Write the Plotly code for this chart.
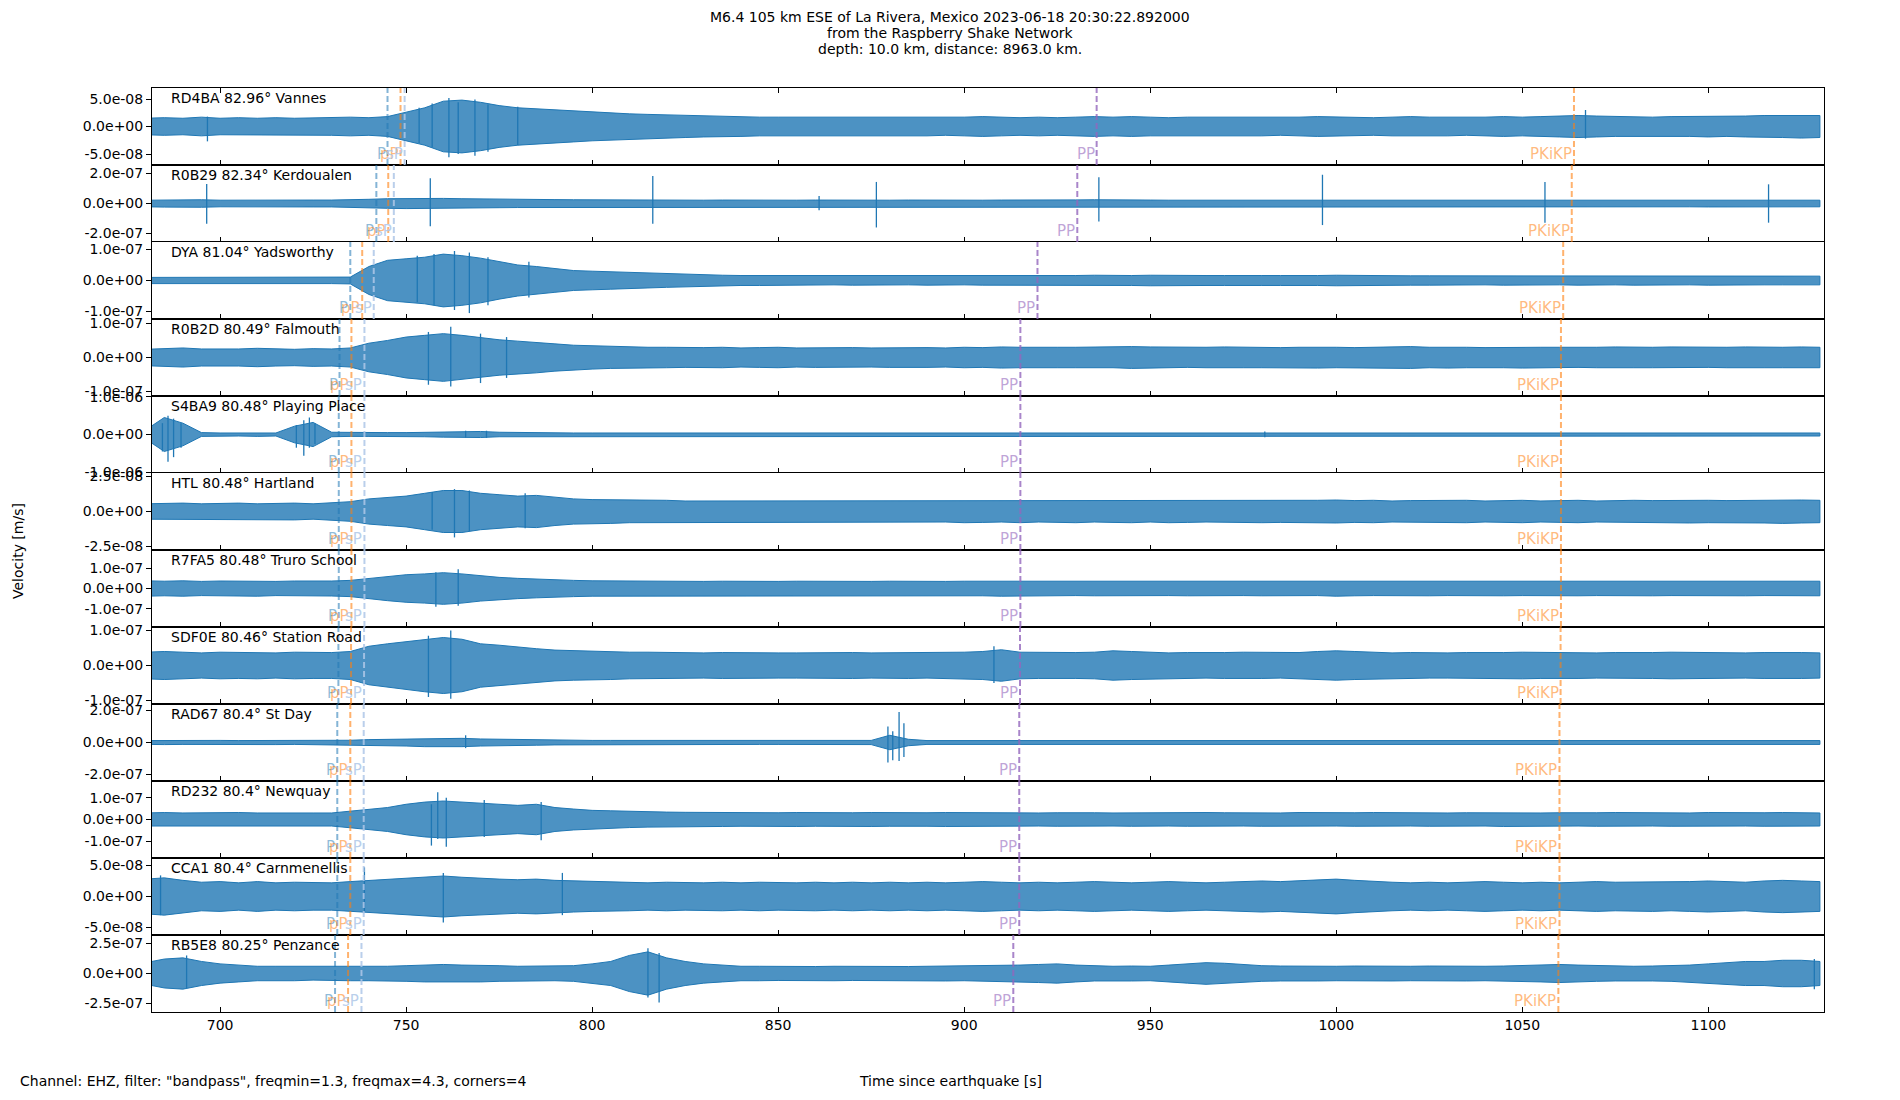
#!/usr/bin/env python3
"""Record section of the M6.4 La Rivera event on the Raspberry Shake network, redrawn with Plotly."""

import plotly.graph_objects as go
from plotly.subplots import make_subplots

# the page puts the figure 8 px in from the top-left corner of the window
PAGE_OFFSET = 8
FIG_W, FIG_H = 1900 - PAGE_OFFSET, 1100 - PAGE_OFFSET
# plot area, in window pixels
PLOT_LEFT, PLOT_RIGHT, PLOT_TOP, PLOT_BOTTOM = 152, 1824, 88, 1012

TITLE_LINES = [
    "M6.4 105 km ESE of La Rivera, Mexico 2023-06-18 20:30:22.892000",
    "from the Raspberry Shake Network",
    "depth: 10.0 km, distance: 8963.0 km.",
]
FOOTER = 'Channel: EHZ, filter: "bandpass", freqmin=1.3, freqmax=4.3, corners=4'
X_TITLE = "Time since earthquake [s]"
Y_TITLE = "Velocity [m/s]"

X_RANGE = [681.7, 1131.1]
X_TICKS = [700, 750, 800, 850, 900, 950, 1000, 1050, 1100]

STATIONS = ["RD4BA", "R0B29", "DYA", "R0B2D", "S4BA9", "HTL",
            "R7FA5", "SDF0E", "RAD67", "RD232", "CCA1", "RB5E8"]
DISTANCES = ["82.96", "82.34", "81.04", "80.49", "80.48", "80.48",
             "80.48", "80.46", "80.4", "80.4", "80.4", "80.25"]
PLACES = ["Vannes", "Kerdoualen", "Yadsworthy", "Falmouth", "Playing Place", "Hartland",
          "Truro School", "Station Road", "St Day", "Newquay", "Carnmenellis", "Penzance"]

# amplitude unit of each trace (m/s), half height of its y axis and the tick step, in that unit
UNITS = [1e-8, 1e-7, 1e-7, 1e-7, 1e-6, 1e-8, 1e-7, 1e-7, 1e-7, 1e-7, 1e-8, 1e-7]
Y_HALF = [7.0, 2.57, 1.24, 1.13, 1.02, 2.75, 1.9, 1.1, 2.4, 1.77, 6.2, 3.2]
Y_STEP = [5, 2, 1, 1, 1, 2.5, 1, 1, 2, 1, 5, 2.5]
Y_TICK_TEXT = [
    ["5.0e-08", "0.0e+00", "-5.0e-08"],
    ["2.0e-07", "0.0e+00", "-2.0e-07"],
    ["1.0e-07", "0.0e+00", "-1.0e-07"],
    ["1.0e-07", "0.0e+00", "-1.0e-07"],
    ["1.0e-06", "0.0e+00", "-1.0e-06"],
    ["2.5e-08", "0.0e+00", "-2.5e-08"],
    ["1.0e-07", "0.0e+00", "-1.0e-07"],
    ["1.0e-07", "0.0e+00", "-1.0e-07"],
    ["2.0e-07", "0.0e+00", "-2.0e-07"],
    ["1.0e-07", "0.0e+00", "-1.0e-07"],
    ["5.0e-08", "0.0e+00", "-5.0e-08"],
    ["2.5e-07", "0.0e+00", "-2.5e-07"],
]

# theoretical arrival times (s) per station
P_TIME = [745.0, 742.0, 735.0, 732.1, 731.9, 731.9, 731.9, 731.8, 731.5, 731.5, 731.5, 730.9]
PP_DEPTH_TIME = [748.5, 745.2, 738.2, 735.3, 735.3, 735.3, 735.3, 735.2, 735.0, 735.0, 735.0, 734.4]
SP_TIME = [749.6, 746.7, 741.3, 738.8, 738.8, 738.8, 738.8, 738.7, 738.6, 738.6, 738.6, 738.0]
PP_TIME = [935.6, 930.4, 919.7, 915.1, 915.1, 915.1, 915.1, 915.0, 914.8, 914.8, 914.8, 913.2]
PKIKP_TIME = [1063.9, 1063.3, 1061.0, 1060.4, 1060.4, 1060.4, 1060.4, 1060.3, 1060.0, 1060.0, 1060.0, 1059.7]

# envelope of each trace, read every 5 s, in the trace unit
ENV_T = list(range(680, 1135, 5))

ENV_RD4BA = [
    1.5, 1.6, 1.5, 1.7, 1.5, 1.6, 1.5, 1.6, 1.5, 1.6,
    1.6, 1.7, 1.6, 1.8, 2.6, 3.4, 4.6, 4.8, 4.4, 3.8,
    3.4, 3.2, 3.0, 2.8, 2.6, 2.4, 2.3, 2.2, 2.1, 2.0,
    1.9, 1.8, 1.8, 1.7, 1.7, 1.7, 1.6, 1.7, 1.6, 1.7,
    1.6, 1.7, 1.7, 1.6, 1.7, 1.8, 1.7, 1.6, 1.7, 1.6,
    1.7, 1.8, 1.7, 1.8, 1.7, 1.6, 1.7, 1.7, 1.6, 1.7,
    1.7, 1.6, 1.7, 1.8, 1.7, 1.7, 1.6, 1.7, 1.8, 1.7,
    1.7, 1.6, 1.7, 1.8, 1.7, 1.8, 1.9, 2.0, 1.9, 1.8,
    1.8, 1.7, 1.8, 1.8, 1.9, 1.8, 1.9, 2.0, 2.0, 2.1,
    2.0,
]
ENV_R0B29 = [
    0.22, 0.24, 0.22, 0.25, 0.22, 0.23, 0.22, 0.24, 0.22, 0.23,
    0.23, 0.24, 0.28, 0.32, 0.34, 0.36, 0.34, 0.32, 0.30, 0.28,
    0.27, 0.26, 0.26, 0.25, 0.24, 0.24, 0.23, 0.25, 0.23, 0.23,
    0.22, 0.23, 0.22, 0.23, 0.22, 0.22, 0.23, 0.22, 0.23, 0.22,
    0.22, 0.23, 0.22, 0.22, 0.23, 0.22, 0.23, 0.22, 0.22, 0.23,
    0.24, 0.25, 0.23, 0.22, 0.23, 0.22, 0.22, 0.23, 0.22, 0.23,
    0.22, 0.23, 0.22, 0.24, 0.23, 0.22, 0.23, 0.22, 0.22, 0.23,
    0.22, 0.23, 0.22, 0.23, 0.22, 0.23, 0.24, 0.23, 0.22, 0.23,
    0.22, 0.23, 0.22, 0.22, 0.23, 0.22, 0.23, 0.22, 0.22, 0.23,
    0.22,
]
ENV_DYA = [
    0.10, 0.10, 0.11, 0.10, 0.10, 0.10, 0.11, 0.10, 0.10, 0.10,
    0.10, 0.11, 0.45, 0.65, 0.70, 0.75, 0.85, 0.80, 0.72, 0.60,
    0.50, 0.45, 0.38, 0.32, 0.30, 0.28, 0.25, 0.24, 0.22, 0.20,
    0.18, 0.17, 0.16, 0.16, 0.15, 0.15, 0.15, 0.14, 0.15, 0.15,
    0.15, 0.14, 0.15, 0.15, 0.14, 0.15, 0.15, 0.15, 0.16, 0.15,
    0.16, 0.17, 0.16, 0.16, 0.17, 0.16, 0.17, 0.16, 0.16, 0.17,
    0.16, 0.16, 0.15, 0.16, 0.17, 0.16, 0.15, 0.16, 0.15, 0.15,
    0.15, 0.15, 0.14, 0.15, 0.15, 0.15, 0.14, 0.15, 0.15, 0.14,
    0.15, 0.14, 0.15, 0.14, 0.15, 0.14, 0.15, 0.14, 0.14, 0.15,
    0.14,
]
ENV_R0B2D = [
    0.24, 0.25, 0.28, 0.25, 0.24, 0.25, 0.27, 0.25, 0.24, 0.26,
    0.25, 0.28, 0.42, 0.50, 0.60, 0.65, 0.70, 0.65, 0.58, 0.52,
    0.48, 0.45, 0.40, 0.36, 0.34, 0.32, 0.31, 0.30, 0.30, 0.29,
    0.29, 0.30, 0.28, 0.29, 0.30, 0.28, 0.29, 0.30, 0.29, 0.28,
    0.29, 0.30, 0.29, 0.28, 0.30, 0.29, 0.31, 0.30, 0.29, 0.30,
    0.30, 0.31, 0.30, 0.32, 0.31, 0.30, 0.29, 0.30, 0.31, 0.30,
    0.30, 0.29, 0.30, 0.31, 0.30, 0.29, 0.30, 0.31, 0.32, 0.30,
    0.31, 0.30, 0.29, 0.30, 0.31, 0.30, 0.30, 0.29, 0.30, 0.31,
    0.30, 0.30, 0.31, 0.30, 0.29, 0.30, 0.31, 0.30, 0.30, 0.31,
    0.30,
]
ENV_S4BA9 = [
    0.12, 0.45, 0.30, 0.05, 0.04, 0.04, 0.05, 0.04, 0.22, 0.32,
    0.06, 0.05, 0.05, 0.05, 0.05, 0.06, 0.07, 0.08, 0.08, 0.06,
    0.05, 0.06, 0.05, 0.04, 0.04, 0.04, 0.04, 0.04, 0.04, 0.04,
    0.04, 0.04, 0.04, 0.04, 0.04, 0.04, 0.04, 0.04, 0.04, 0.04,
    0.04, 0.04, 0.04, 0.04, 0.04, 0.04, 0.05, 0.04, 0.04, 0.04,
    0.04, 0.04, 0.04, 0.04, 0.04, 0.04, 0.04, 0.04, 0.04, 0.04,
    0.06, 0.04, 0.04, 0.04, 0.04, 0.04, 0.04, 0.04, 0.04, 0.04,
    0.04, 0.04, 0.04, 0.04, 0.04, 0.04, 0.04, 0.04, 0.04, 0.04,
    0.04, 0.04, 0.04, 0.04, 0.04, 0.05, 0.04, 0.04, 0.04, 0.04,
    0.04,
]
ENV_HTL = [
    0.55, 0.60, 0.60, 0.55, 0.60, 0.60, 0.55, 0.60, 0.60, 0.55,
    0.60, 0.70, 0.90, 1.00, 1.10, 1.30, 1.50, 1.50, 1.30, 1.20,
    1.10, 1.15, 1.00, 0.90, 0.85, 0.85, 0.80, 0.80, 0.80, 0.75,
    0.75, 0.78, 0.75, 0.80, 0.75, 0.78, 0.75, 0.75, 0.80, 0.75,
    0.75, 0.78, 0.75, 0.75, 0.80, 0.78, 0.75, 0.80, 0.75, 0.78,
    0.80, 0.75, 0.78, 0.80, 0.75, 0.80, 0.78, 0.75, 0.80, 0.78,
    0.80, 0.78, 0.75, 0.80, 0.82, 0.78, 0.80, 0.75, 0.78, 0.80,
    0.78, 0.80, 0.75, 0.78, 0.80, 0.75, 0.78, 0.80, 0.75, 0.78,
    0.80, 0.78, 0.80, 0.82, 0.80, 0.78, 0.80, 0.82, 0.85, 0.82,
    0.80,
]
ENV_R7FA5 = [
    0.38, 0.36, 0.38, 0.35, 0.37, 0.36, 0.38, 0.35, 0.37, 0.36,
    0.37, 0.40, 0.50, 0.60, 0.68, 0.72, 0.78, 0.72, 0.62, 0.55,
    0.50, 0.46, 0.42, 0.40, 0.38, 0.37, 0.37, 0.36, 0.36, 0.36,
    0.35, 0.36, 0.35, 0.36, 0.35, 0.36, 0.35, 0.35, 0.36, 0.35,
    0.36, 0.35, 0.36, 0.35, 0.36, 0.36, 0.38, 0.36, 0.35, 0.36,
    0.35, 0.36, 0.35, 0.36, 0.36, 0.35, 0.36, 0.35, 0.36, 0.35,
    0.36, 0.35, 0.36, 0.35, 0.38, 0.36, 0.35, 0.36, 0.35, 0.36,
    0.35, 0.36, 0.35, 0.36, 0.35, 0.36, 0.35, 0.36, 0.35, 0.36,
    0.35, 0.36, 0.35, 0.36, 0.36, 0.35, 0.36, 0.35, 0.36, 0.35,
    0.36,
]
ENV_SDF0E = [
    0.38, 0.40, 0.38, 0.36, 0.38, 0.37, 0.38, 0.36, 0.38, 0.37,
    0.37, 0.40, 0.55, 0.62, 0.68, 0.75, 0.80, 0.75, 0.62, 0.58,
    0.52, 0.48, 0.44, 0.42, 0.40, 0.40, 0.38, 0.38, 0.37, 0.36,
    0.36, 0.37, 0.36, 0.37, 0.36, 0.36, 0.37, 0.36, 0.37, 0.36,
    0.36, 0.37, 0.36, 0.37, 0.38, 0.40, 0.45, 0.38, 0.37, 0.36,
    0.37, 0.38, 0.42, 0.40, 0.37, 0.36, 0.37, 0.36, 0.37, 0.38,
    0.37, 0.36, 0.37, 0.40, 0.42, 0.40, 0.37, 0.36, 0.37, 0.36,
    0.36, 0.37, 0.36, 0.37, 0.38, 0.37, 0.36, 0.37, 0.36, 0.37,
    0.36, 0.37, 0.38, 0.37, 0.36, 0.37, 0.36, 0.37, 0.38, 0.37,
    0.36,
]
ENV_RAD67 = [
    0.12, 0.13, 0.12, 0.12, 0.13, 0.12, 0.12, 0.13, 0.12, 0.12,
    0.12, 0.14, 0.18, 0.20, 0.22, 0.26, 0.28, 0.26, 0.22, 0.20,
    0.18, 0.17, 0.15, 0.14, 0.13, 0.13, 0.13, 0.13, 0.12, 0.12,
    0.12, 0.13, 0.12, 0.12, 0.12, 0.13, 0.12, 0.12, 0.12, 0.13,
    0.45, 0.20, 0.12, 0.12, 0.13, 0.12, 0.13, 0.12, 0.12, 0.12,
    0.12, 0.13, 0.12, 0.12, 0.12, 0.13, 0.12, 0.12, 0.13, 0.12,
    0.12, 0.12, 0.13, 0.12, 0.12, 0.13, 0.12, 0.12, 0.12, 0.13,
    0.12, 0.12, 0.13, 0.12, 0.12, 0.12, 0.13, 0.12, 0.12, 0.12,
    0.13, 0.12, 0.12, 0.12, 0.13, 0.12, 0.12, 0.13, 0.12, 0.12,
    0.12,
]
ENV_RD232 = [
    0.30, 0.32, 0.30, 0.31, 0.30, 0.32, 0.30, 0.31, 0.30, 0.30,
    0.30, 0.38, 0.48, 0.55, 0.70, 0.80, 0.85, 0.80, 0.75, 0.70,
    0.65, 0.70, 0.55, 0.48, 0.42, 0.40, 0.37, 0.35, 0.34, 0.33,
    0.32, 0.32, 0.31, 0.32, 0.31, 0.32, 0.31, 0.30, 0.31, 0.32,
    0.31, 0.30, 0.31, 0.32, 0.31, 0.30, 0.32, 0.31, 0.30, 0.31,
    0.32, 0.31, 0.30, 0.31, 0.32, 0.30, 0.31, 0.32, 0.31, 0.30,
    0.31, 0.30, 0.32, 0.31, 0.30, 0.31, 0.32, 0.31, 0.30, 0.31,
    0.30, 0.31, 0.30, 0.32, 0.31, 0.30, 0.31, 0.30, 0.31, 0.32,
    0.31, 0.30, 0.31, 0.30, 0.32, 0.31, 0.30, 0.31, 0.32, 0.31,
    0.30,
]
ENV_CCA1 = [
    2.8, 3.0, 2.6, 2.3, 2.4, 2.2, 2.4, 2.2, 2.3, 2.2,
    2.2, 2.4, 2.6, 2.8, 3.0, 3.1, 3.3, 3.1, 2.9, 2.8,
    2.7, 2.8, 2.6, 2.5, 2.4, 2.3, 2.3, 2.2, 2.3, 2.2,
    2.2, 2.3, 2.2, 2.3, 2.2, 2.2, 2.3, 2.2, 2.3, 2.2,
    2.3, 2.2, 2.3, 2.2, 2.3, 2.4, 2.3, 2.2, 2.3, 2.2,
    2.3, 2.4, 2.3, 2.2, 2.3, 2.4, 2.3, 2.2, 2.3, 2.4,
    2.5, 2.4, 2.5, 2.7, 2.8, 2.6, 2.4, 2.3, 2.2, 2.3,
    2.2, 2.3, 2.4, 2.3, 2.2, 2.3, 2.2, 2.3, 2.4, 2.3,
    2.3, 2.4, 2.3, 2.4, 2.5, 2.4, 2.3, 2.5, 2.6, 2.5,
    2.4,
]
ENV_RB5E8 = [
    0.90, 1.20, 1.30, 1.00, 0.80, 0.70, 0.60, 0.60, 0.60, 0.55,
    0.55, 0.60, 0.60, 0.60, 0.65, 0.70, 0.75, 0.70, 0.70, 0.65,
    0.60, 0.60, 0.60, 0.65, 0.80, 1.00, 1.50, 1.80, 1.30, 1.00,
    0.80, 0.70, 0.60, 0.60, 0.58, 0.60, 0.58, 0.60, 0.58, 0.60,
    0.60, 0.58, 0.60, 0.62, 0.60, 0.62, 0.65, 0.70, 0.75, 0.80,
    0.70, 0.62, 0.60, 0.62, 0.60, 0.70, 0.80, 0.90, 0.85, 0.75,
    0.65, 0.62, 0.60, 0.62, 0.60, 0.62, 0.60, 0.62, 0.60, 0.62,
    0.60, 0.62, 0.60, 0.62, 0.65, 0.70, 0.75, 0.70, 0.65, 0.62,
    0.60, 0.62, 0.65, 0.70, 0.80, 0.90, 1.00, 1.00, 1.10, 1.10,
    1.00,
]

# isolated peaks standing out of the envelope: (time s, up, down) in the trace unit
SPK_RD4BA = [(696.6, 1.8, 2.7), (753.5, 3.4, 3.0), (757.0, 4.2, 3.8), (761.5, 5.2, 5.6),
             (764.0, 4.4, 5.0), (768.5, 4.9, 5.3), (772.0, 4.0, 4.6), (780.0, 3.6, 3.4),
             (1067.0, 3.0, 2.2)]
SPK_R0B29 = [(696.4, 1.30, 1.36), (756.5, 1.68, 1.52), (816.3, 1.84, 1.36), (861.0, 0.50, 0.45),
             (876.4, 1.44, 1.60), (936.2, 1.76, 1.20), (996.3, 1.92, 1.44), (1056.1, 1.44, 1.28),
             (1116.2, 1.28, 1.28)]
SPK_DYA = [(753.0, 0.80, 0.70), (757.5, 0.85, 0.80), (763.0, 0.95, 0.95), (767.0, 0.90, 1.05),
           (772.0, 0.75, 0.80), (783.0, 0.60, 0.55)]
SPK_R0B2D = [(756.0, 0.75, 0.80), (762.0, 0.90, 0.85), (770.0, 0.70, 0.75), (777.0, 0.60, 0.60)]
SPK_S4BA9 = [(684.5, 0.30, 0.45), (686.0, 0.50, 0.72), (687.5, 0.42, 0.60), (689.5, 0.30, 0.35),
             (720.5, 0.25, 0.35), (722.5, 0.38, 0.56), (724.0, 0.45, 0.35), (725.5, 0.30, 0.25),
             (766.0, 0.10, 0.08), (771.6, 0.10, 0.09), (980.8, 0.08, 0.07)]
SPK_HTL = [(757.0, 1.4, 1.3), (763.0, 1.6, 1.85), (767.0, 1.5, 1.4), (782.0, 1.3, 1.2)]
SPK_R7FA5 = [(758.0, 0.80, 0.90), (764.0, 0.95, 0.85)]
SPK_SDF0E = [(756.0, 0.85, 0.90), (762.0, 1.00, 0.95), (908.0, 0.55, 0.50)]
SPK_RAD67 = [(766.0, 0.45, 0.35), (879.5, 1.00, 1.25), (880.8, 0.70, 1.10), (882.5, 1.90, 1.15),
             (883.8, 1.20, 0.90)]
SPK_RD232 = [(756.8, 0.70, 1.20), (758.5, 1.25, 0.90), (760.8, 1.00, 1.25), (771.0, 0.90, 0.80),
             (786.3, 0.80, 0.95)]
SPK_CCA1 = [(684.0, 3.4, 3.0), (738.8, 4.7, 2.5), (760.0, 3.8, 4.2), (792.0, 3.8, 3.0)]
SPK_RB5E8 = [(691.0, 1.5, 1.2), (815.0, 2.1, 2.0), (818.0, 1.7, 2.4), (1128.5, 1.2, 1.3)]

ENVELOPES = [ENV_RD4BA, ENV_R0B29, ENV_DYA, ENV_R0B2D, ENV_S4BA9, ENV_HTL,
             ENV_R7FA5, ENV_SDF0E, ENV_RAD67, ENV_RD232, ENV_CCA1, ENV_RB5E8]
SPIKES = [SPK_RD4BA, SPK_R0B29, SPK_DYA, SPK_R0B2D, SPK_S4BA9, SPK_HTL,
          SPK_R7FA5, SPK_SDF0E, SPK_RAD67, SPK_RD232, SPK_CCA1, SPK_RB5E8]

TRACE_COLOR = "#1f77b4"
FONT = "DejaVu Sans"

# phase name, arrival list, line colour, label colour
PHASES = [
    ("P", P_TIME, "rgba(31,119,180,0.55)", "rgba(31,119,180,0.5)"),
    ("pP", PP_DEPTH_TIME, "rgba(255,127,14,0.6)", "rgba(255,127,14,0.55)"),
    ("sP", SP_TIME, "rgba(174,199,232,0.85)", "rgba(174,199,232,0.85)"),
    ("PP", PP_TIME, "rgba(148,103,189,0.8)", "rgba(148,103,189,0.6)"),
    ("PKiKP", PKIKP_TIME, "rgba(255,127,14,0.6)", "rgba(255,127,14,0.55)"),
]


def paper_x(px: float) -> float:
    return (px - PLOT_LEFT) / (PLOT_RIGHT - PLOT_LEFT)


def paper_y(px: float) -> float:
    return (PLOT_BOTTOM - px) / (PLOT_BOTTOM - PLOT_TOP)


def add_station(fig, i: int) -> None:
    row = i + 1
    unit = UNITS[i]
    upper = [v * unit for v in ENVELOPES[i]]
    lower = [-v * unit for v in ENVELOPES[i]]
    fig.add_trace(
        go.Scatter(
            x=ENV_T + ENV_T[::-1],
            y=upper + lower[::-1],
            mode="lines",
            fill="toself",
            fillcolor="rgba(31,119,180,0.8)",
            line={"color": TRACE_COLOR, "width": 1},
            hoverinfo="skip",
            showlegend=False,
        ),
        row=row,
        col=1,
    )
    sx, sy = [], []
    for t, up, down in SPIKES[i]:
        sx += [t, t, None]
        sy += [up * unit, -down * unit, None]
    fig.add_trace(
        go.Scatter(x=sx, y=sy, mode="lines", line={"color": TRACE_COLOR, "width": 1.3},
                   hoverinfo="skip", showlegend=False),
        row=row,
        col=1,
    )

    suffix = "" if row == 1 else str(row)
    for name, times, line_color, label_color in PHASES:
        fig.add_shape(
            type="line", xref=f"x{suffix}", yref=f"y{suffix} domain",
            x0=times[i], x1=times[i], y0=0, y1=1,
            line={"color": line_color, "width": 2, "dash": "6px,3px"},
        )
        fig.add_annotation(
            x=times[i], y=0, xref=f"x{suffix}", yref=f"y{suffix} domain",
            text=name, showarrow=False, xanchor="right", yanchor="bottom",
            font={"size": 15, "color": label_color},
        )
    fig.add_annotation(
        x=paper_x(169), y=1, xref=f"x{suffix} domain", yref=f"y{suffix} domain",
        text=f"{STATIONS[i]} {DISTANCES[i]}° {PLACES[i]}", showarrow=False,
        xanchor="left", yanchor="top", font={"size": 14, "color": "black"},
    )

    step = Y_STEP[i] * unit
    fig.update_yaxes(
        row=row, col=1,
        range=[-Y_HALF[i] * unit, Y_HALF[i] * unit],
        tickvals=[step, 0, -step], ticktext=Y_TICK_TEXT[i],
        ticks="outside", ticklen=5, tickcolor="black",
        showline=True, linecolor="black", linewidth=1, mirror=True,
        showgrid=False, zeroline=False, tickfont={"size": 14},
    )
    fig.update_xaxes(
        row=row, col=1,
        range=X_RANGE, tickvals=X_TICKS, ticks="inside", ticklen=5, tickcolor="black",
        showline=True, linecolor="black", linewidth=1,
        mirror="ticks" if row == 1 else True,
        showgrid=False, zeroline=False,
        showticklabels=row == len(STATIONS), tickfont={"size": 14},
    )


def main() -> int:
    n = len(STATIONS)
    for env in ENVELOPES:
        assert len(env) == len(ENV_T)
    fig = make_subplots(rows=n, cols=1, shared_xaxes=True, vertical_spacing=0)
    for i in range(n):
        add_station(fig, i)

    for k, line in enumerate(TITLE_LINES):
        fig.add_annotation(x=paper_x(950), y=paper_y(17 + 15.8 * k), xref="paper", yref="paper",
                           text=line, showarrow=False, xanchor="center", yanchor="middle",
                           font={"size": 14})
    fig.add_annotation(x=paper_x(18), y=paper_y(1081), xref="paper", yref="paper", text=FOOTER,
                       showarrow=False, xanchor="left", yanchor="middle", font={"size": 14})
    fig.add_annotation(x=paper_x(950), y=paper_y(1081), xref="paper", yref="paper", text=X_TITLE,
                       showarrow=False, xanchor="center", yanchor="middle", font={"size": 14})
    fig.add_annotation(x=paper_x(18), y=paper_y(551), xref="paper", yref="paper", text=Y_TITLE,
                       showarrow=False, textangle=-90, xanchor="center", yanchor="middle",
                       font={"size": 14})

    fig.update_layout(
        width=FIG_W,
        height=FIG_H,
        margin={
            "l": PLOT_LEFT - PAGE_OFFSET,
            "r": 1900 - PLOT_RIGHT,
            "t": PLOT_TOP - PAGE_OFFSET,
            "b": 1100 - PLOT_BOTTOM,
        },
        paper_bgcolor="white",
        plot_bgcolor="white",
        font={"family": FONT, "size": 14, "color": "black"},
        showlegend=False,
    )
    fig.write_html("out.html")
    return 0


if __name__ == "__main__":
    raise SystemExit(main())
